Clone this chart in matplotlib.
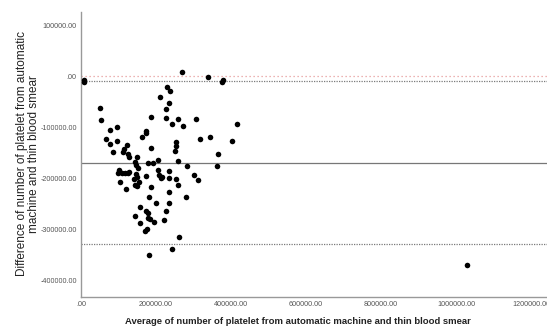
import numpy as np
import matplotlib
matplotlib.use("Agg")
import matplotlib.pyplot as plt
from matplotlib.ticker import FuncFormatter

# average of the two counts (x) and their difference (y)
avg_count = [
    6700, 9300, 270100, 230100, 238100, 211500, 233900, 227500, 50700, 53300,
    185900, 227500, 258700, 306700, 243500, 272800, 78100, 96800, 172500, 174100,
    163500, 66700, 96800, 317300, 76500, 253300, 252500, 251500, 123500, 114700,
    185900, 337900, 379500, 376800, 416800, 343200, 402700, 366100, 361900, 86100,
    112800, 126100, 128800, 148500, 206100, 259500, 144000, 146700, 179500, 191200,
    281900, 152800, 101300, 108500, 117300, 124500, 128800, 97900, 145900, 148500,
    172500, 206100, 208800, 215200, 212500, 234700, 234700, 252500, 302100, 312800,
    142100, 154700, 144000, 148500, 104000, 119200, 185900, 257900, 234700, 181300,
    279200, 200000, 234700, 157300, 172500, 177900, 226700, 144000, 179500, 184000,
    157300, 193900, 222100, 175200, 170700, 262100, 241900, 182100, 1030100,
]
diff_count = [
    -7800, -11700, 8200, -20000, -27800, -39500, -52400, -63600, -62200, -85100,
    -78700, -80600, -83200, -84100, -93500, -96300, -104700, -98200, -106100, -110000,
    -119000, -122900, -126800, -122900, -132100, -128800, -136000, -145200, -133500, -142500,
    -140500, -400, -6800, -10200, -93000, -117800, -127200, -150700, -174200, -146800,
    -147200, -151700, -156600, -158100, -163400, -164800, -166700, -173200, -169900, -169900,
    -174600, -179600, -183000, -188300, -189400, -188300, -186300, -188300, -190800, -196100,
    -194700, -183000, -192800, -196100, -199200, -184300, -199200, -200600, -192800, -202500,
    -201200, -205900, -212300, -214300, -207000, -220700, -215700, -212300, -225400, -236400,
    -236400, -248100, -248100, -256000, -262600, -267700, -263800, -272400, -277500, -279500,
    -286100, -284700, -280800, -298400, -302400, -313500, -337000, -349900, -368900,
]

mean_diff = -168700
upper_loa = -8800
lower_loa = -328500

x_ticks = [0, 200000, 400000, 600000, 800000, 1000000, 1200000]
y_ticks = [100000, 0, -100000, -200000, -300000, -400000]


def spss_fmt(v, pos=None):
    s = "%.2f" % v
    if s.startswith("0."):
        s = s[1:]
    return s


plt.rcParams["font.family"] = ["Liberation Sans", "DejaVu Sans"]

fig = plt.figure(figsize=(5.47, 3.30), dpi=100)
ax = fig.add_axes([81 / 547, (330 - 296.7) / 330, (547 - 81) / 547, (296.7 - 12) / 330])

ax.axhline(0, color="#e79a9a", lw=0.9, ls=(0, (1, 2.2)), zorder=1)
ax.axhline(upper_loa, color="#7a7a7a", lw=0.9, ls=(0, (1, 1)), zorder=1)
ax.axhline(lower_loa, color="#7a7a7a", lw=0.9, ls=(0, (1, 1)), zorder=1)
ax.axhline(mean_diff, color="#777777", lw=0.9, zorder=1)

ax.scatter(avg_count, diff_count, s=16, color="black", linewidths=0, zorder=3)

ax.set_xlim(0, 1242667)
ax.set_ylim(-430900, 126200)
ax.set_xticks(x_ticks)
ax.set_yticks(y_ticks)
ax.xaxis.set_major_formatter(FuncFormatter(spss_fmt))
ax.yaxis.set_major_formatter(FuncFormatter(spss_fmt))
ax.tick_params(length=0, labelsize=5.2, labelcolor="#555555", pad=3)

for side in ("top", "right"):
    ax.spines[side].set_visible(False)
for side in ("left", "bottom"):
    ax.spines[side].set_color("#999999")
    ax.spines[side].set_linewidth(1.0)

fig.text(0.5 * (128 + 468) / 547, 1 - 322 / 330,
         "Average of number of platelet from automatic machine and thin blood smear",
         ha="center", va="center", fontsize=6.8, fontweight="bold", color="#222222")
fig.text(28 / 547, 1 - 154 / 330,
         "Difference of number of platelet from automatic\nmachine and thin blood smear",
         ha="center", va="center", rotation=90, fontsize=8.5, color="#222222",
         linespacing=1.0, multialignment="center")

fig.savefig("out.png", dpi=100)
